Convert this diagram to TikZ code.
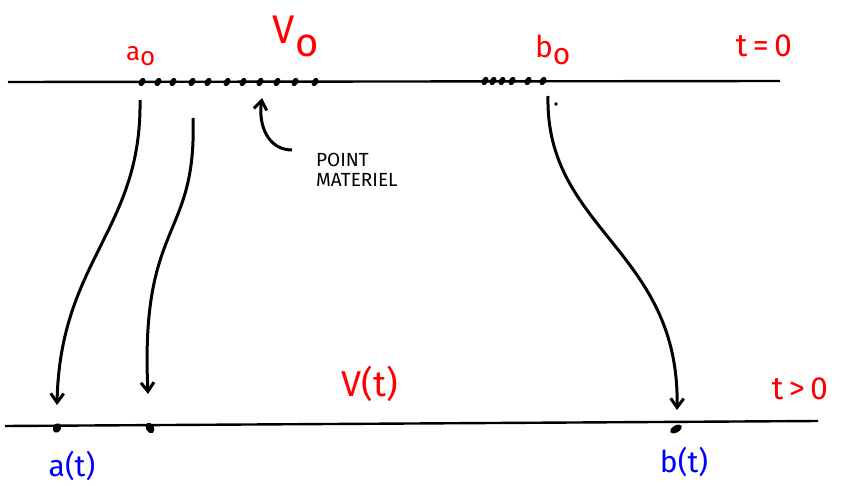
\documentclass[tikz,border=0pt]{standalone}
\usepackage{fontspec}
\setmainfont{Fira Sans}
\usetikzlibrary{arrows.meta,shapes.geometric}
\begin{document}
\begin{tikzpicture}[x=1pt,y=-1pt,
  redlbl/.style={text=red, font=\fontsize{40}{42}\selectfont, inner sep=0pt},
  midred/.style={text=red, font=\fontsize{32}{34}\selectfont, inner sep=0pt},
  smallred/.style={text=red, font=\fontsize{26}{28}\selectfont, inner sep=0pt},
  bluelbl/.style={text=blue, font=\fontsize{30}{32}\selectfont, inner sep=0pt},
  axis/.style={line width=2.4pt, black},
  pt/.style={ellipse, fill=black, minimum width=9pt, minimum height=6pt, inner sep=0pt, rotate=60},
  flow/.style={line width=3pt, -{Straight Barb[length=9pt,width=13pt]}},
]
\useasboundingbox (0,0) rectangle (859,486);
% lines
\coordinate (tl) at (8,82); \coordinate (tr) at (780,81);
\coordinate (bl) at (5,426); \coordinate (br) at (818,421);
\draw[axis] (tl) -- (tr);
\draw[axis] (bl) -- (br);
% top dots
\foreach \x [count=\i] in {142,158,173,192,208,227,243,260,277,295,315}
  \node[pt] (d\i) at (\x,82) {};
\foreach \x [count=\i] in {485,493,502,512,528,543}
  \node[pt] (e\i) at (\x,81) {};
% bottom dots
\node[pt, minimum width=10pt, minimum height=8pt] (at) at (57,428) {};
\node[pt, minimum width=11pt, minimum height=8pt, rotate=60] (mt) at (150,428) {};
\node[pt, minimum width=13pt, minimum height=7pt, rotate=-30] (bt) at (676,429) {};
% labels
\node[smallred] (a0) at (141,56) {a$_{\textrm{o}}$};
\node[redlbl] (V0) at (296,36) {V$_{\textrm{o}}$};
\node[smallred, font=\fontsize{30}{32}\selectfont] (b0) at (553,50) {b$_{\textrm{o}}$};
\node[midred] (t0) at (764,46) {t\,=\,0};
\node[redlbl, font=\fontsize{36}{38}\selectfont] (Vt) at (370,384) {V(t)};
\node[midred] (tg) at (800,389) {t\,>\,0};
\node[bluelbl] (alab) at (72,466) {a(t)};
\node[bluelbl] (blab) at (684,462) {b(t)};
\node[align=left, anchor=north west, font=\fontsize{19}{20}\selectfont, inner sep=0pt] (pm) at (316,153) {POINT\\MATERIEL};
% arrows
\coordinate (s1) at (140,100); \coordinate (e1) at (57,405);
\coordinate (s2) at (193,118); \coordinate (e2) at (148,394);
\coordinate (s3) at (548,96);  \coordinate (e3) at (677,410);
\coordinate (s4) at (292,150); \coordinate (e4) at (262,98);
\draw[flow] (s1) .. controls (142,230) and (60,260) .. (e1);
\draw[flow] (s2) .. controls (197,240) and (140,220) .. (e2);
\draw[flow] (s3) .. controls (545,230) and (680,250) .. (e3);
\draw[flow] (s4) .. controls (268,150) and (258,125) .. (e4);
\fill (556,104) circle (1.8pt);
\end{tikzpicture}
\end{document}
